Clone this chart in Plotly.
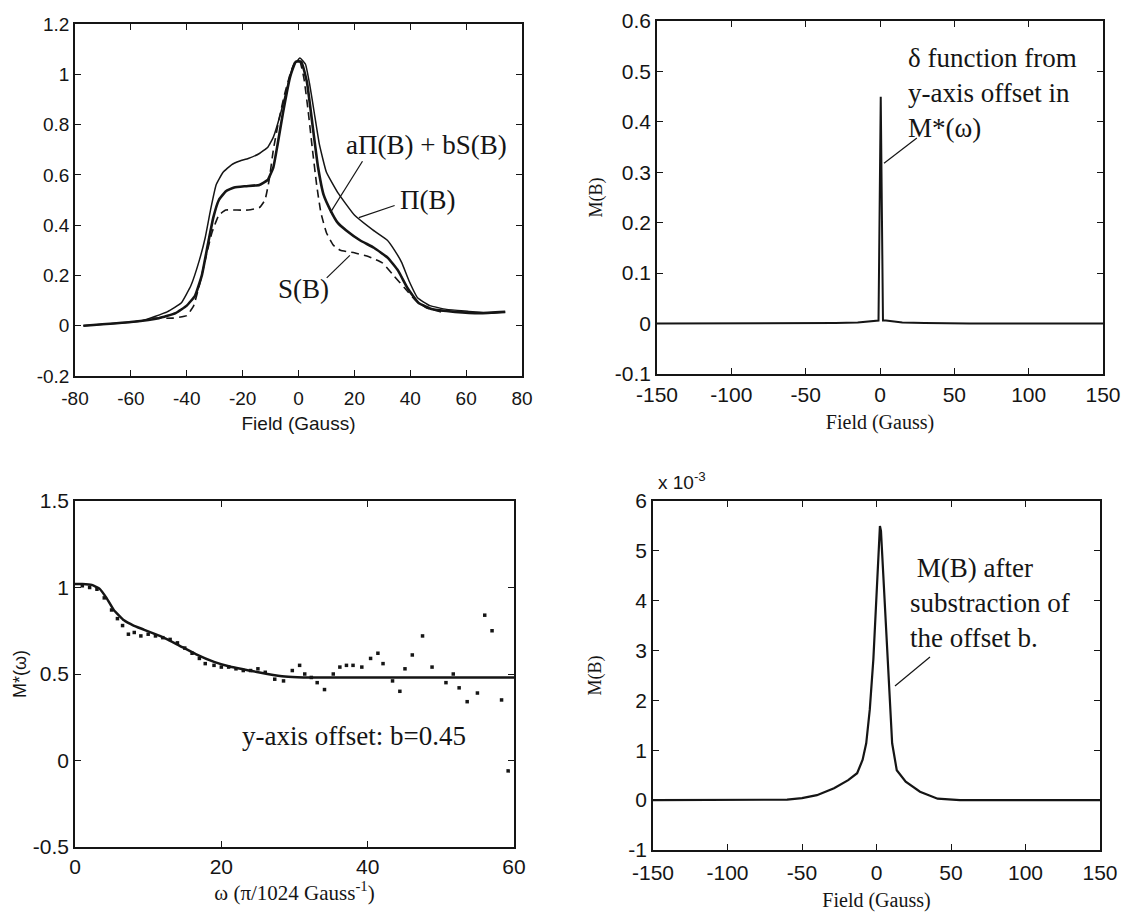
import plotly.graph_objects as go

INK = "#151515"
SANS = "Liberation Sans, Arial, sans-serif"
SERIF = "Liberation Serif, Times New Roman, serif"

# ---------------- Top-left: line shapes ----------------
pi_B = [-77, -65, -56, -47, -42, -38.5, -35.5, -33.4, -31.5, -29.5, -27, -24, -21, -18, -14, -11, -9, -6.5, -4, -2, 0.5, 2.5, 4, 5.6, 7.5, 10, 14, 20, 26.7, 31.8, 34.4, 37, 39.5, 42.7, 47, 53, 61, 68, 74]
pi_M = [0.0, 0.01, 0.02, 0.055, 0.09, 0.16, 0.26, 0.35, 0.46, 0.56, 0.61, 0.64, 0.655, 0.665, 0.685, 0.71, 0.75, 0.84, 0.95, 1.03, 1.065, 1.04, 0.96, 0.85, 0.72, 0.61, 0.53, 0.44, 0.38, 0.34, 0.30, 0.25, 0.18, 0.11, 0.08, 0.065, 0.057, 0.05, 0.055]

comb_B = [-77, -60, -50, -44, -40, -37, -34.6, -32.5, -30.5, -28.5, -26, -23, -19, -14, -11, -9, -7.5, -5.5, -3, -1, 1, 3, 5, 7, 9, 11.4, 14, 17, 22, 27, 32, 35.6, 39, 43, 48, 56, 65, 74]
comb_M = [0.0, 0.015, 0.03, 0.05, 0.08, 0.12, 0.2, 0.32, 0.43, 0.5, 0.535, 0.55, 0.555, 0.56, 0.58, 0.63, 0.72, 0.85, 0.99, 1.05, 1.05, 0.97, 0.8, 0.63, 0.52, 0.46, 0.41, 0.38, 0.34, 0.31, 0.27, 0.22, 0.15, 0.09, 0.065, 0.055, 0.05, 0.055]

s_B = [-52, -45, -40, -37.5, -35.3, -33, -31, -28.5, -26, -22, -18, -14, -12, -10.5, -9, -7, -5, -3, -1.2, 0.5, 2, 3.5, 5, 6.5, 8, 10, 12.5, 15, 20, 25, 30, 34, 38, 42, 46, 51]
s_M = [0.03, 0.03, 0.04, 0.08, 0.17, 0.28, 0.37, 0.44, 0.46, 0.46, 0.46, 0.47, 0.5, 0.58, 0.7, 0.82, 0.92, 1.0, 1.05, 1.05, 0.98, 0.85, 0.7, 0.56, 0.45, 0.37, 0.32, 0.30, 0.29, 0.275, 0.25, 0.2, 0.15, 0.1, 0.07, 0.055]

tl_xticks = [-80, -60, -40, -20, 0, 20, 40, 60, 80]
tl_xtext = ["-80", "-60", "-40", "-20", "0", "20", "40", "60", "80"]
tl_yticks = [-0.2, 0, 0.2, 0.4, 0.6, 0.8, 1.0, 1.2]
tl_ytext = ["-0.2", "0", "0.2", "0.4", "0.6", "0.8", "1", "1.2"]

# ---------------- Top-right: M(B) with delta spike ----------------
tr_B = [-150, -60, -30, -15, -8, -3, -1, 0.5, 2, 4, 8, 15, 30, 60, 150]
tr_M = [0.0, 0.0, 0.001, 0.002, 0.004, 0.006, 0.006, 0.45, 0.006, 0.006, 0.004, 0.002, 0.001, 0.0, 0.0]
tr_xticks = [-150, -100, -50, 0, 50, 100, 150]
tr_xtext = ["-150", "-100", "-50", "0", "50", "100", "150"]
tr_yticks = [-0.1, 0, 0.1, 0.2, 0.3, 0.4, 0.5, 0.6]
tr_ytext = ["-0.1", "0", "0.1", "0.2", "0.3", "0.4", "0.5", "0.6"]

# ---------------- Bottom-left: M*(omega) ----------------
fit_w = [0, 1, 2.3, 3.3, 4.3, 5.3, 6.7, 8, 9.2, 11.6, 14, 16.5, 19, 21.4, 23.8, 26.3, 28.7, 31.2, 60]
fit_M = [1.02, 1.02, 1.015, 0.995, 0.94, 0.87, 0.81, 0.78, 0.76, 0.72, 0.67, 0.615, 0.57, 0.54, 0.52, 0.5, 0.485, 0.48, 0.48]
pts_w = [1, 2, 3, 4, 5, 5.8, 6.5, 7.3, 8.1, 9, 10, 11, 12, 13, 14, 15, 16, 17, 17.8, 19, 20, 21, 22, 23, 24, 25, 26, 27.3, 28.5, 29.7, 30.7, 31.4, 32.3, 33.1, 34.1, 35.3, 36.2, 37.1, 38, 39.2, 40.4, 41.4, 42.1, 43.4, 44.4, 45.1, 46.1, 47.5, 48.8, 50.7, 51.7, 52.5, 53.6, 55, 56, 57, 58.3, 59.2]
pts_M = [1.01, 1.0, 0.99, 0.94, 0.87, 0.82, 0.78, 0.73, 0.74, 0.72, 0.73, 0.72, 0.71, 0.7, 0.68, 0.65, 0.62, 0.59, 0.56, 0.55, 0.54, 0.54, 0.53, 0.52, 0.52, 0.53, 0.51, 0.47, 0.46, 0.52, 0.55, 0.5, 0.48, 0.45, 0.41, 0.5, 0.54, 0.55, 0.55, 0.54, 0.59, 0.62, 0.56, 0.46, 0.4, 0.53, 0.61, 0.72, 0.54, 0.45, 0.5, 0.42, 0.34, 0.39, 0.84, 0.75, 0.35, -0.06]
bl_xticks = [0, 20, 40, 60]
bl_xtext = ["0", "20", "40", "60"]
bl_yticks = [-0.5, 0, 0.5, 1, 1.5]
bl_ytext = ["-0.5", "0", "0.5", "1", "1.5"]

# ---------------- Bottom-right: M(B) after offset subtraction (x 1e-3) ----------------
br_B = [-150, -100, -60, -50, -40, -28.5, -19, -13, -9.3, -6.9, -4.5, -2.1, -0.1, 1.5, 2.3, 3, 4, 6.4, 8.8, 10.5, 13.6, 19.6, 29.2, 41, 56, 100, 150]
br_M = [0, 0, 0.01, 0.04, 0.1, 0.24, 0.4, 0.54, 0.81, 1.14, 1.82, 2.83, 4.17, 5.3, 5.5, 5.4, 4.85, 3.5, 2.15, 1.14, 0.6, 0.37, 0.17, 0.03, 0, 0, 0]
br_xticks = tr_xticks
br_xtext = tr_xtext
br_yticks = [-1, 0, 1, 2, 3, 4, 5, 6]
br_ytext = ["-1", "0", "1", "2", "3", "4", "5", "6"]

W, H = 1128, 912


def dom_x(a, b):
    return [a / W, b / W]


def dom_y(top, bottom):
    return [1 - bottom / H, 1 - top / H]


def axis(domain, rng, tv, tt, anchor, fsize, title=None, tfont=None, standoff=None, lab_off=0):
    d = dict(domain=domain, range=rng, tickmode="array", tickvals=tv, ticktext=tt,
             anchor=anchor, showline=True, linecolor=INK, linewidth=1.5, mirror="ticks",
             ticks="inside", ticklen=6, tickwidth=1.2, tickcolor=INK, showgrid=False,
             zeroline=False, automargin=False, ticklabelstandoff=lab_off,
             tickfont=dict(family=SANS, size=fsize, color=INK))
    if title is not None:
        d["title"] = dict(text=title, font=tfont, standoff=standoff)
    return d


fig = go.Figure()
fig.add_trace(go.Scatter(x=pi_B, y=pi_M, xaxis="x", yaxis="y", mode="lines",
                         line=dict(color=INK, width=1.5, shape="spline", smoothing=0.35)))
fig.add_trace(go.Scatter(x=comb_B, y=comb_M, xaxis="x", yaxis="y", mode="lines",
                         line=dict(color=INK, width=2.6, shape="spline", smoothing=0.35)))
fig.add_trace(go.Scatter(x=s_B, y=s_M, xaxis="x", yaxis="y", mode="lines",
                         line=dict(color=INK, width=1.6, dash="8px,5px", shape="spline", smoothing=0.35)))
fig.add_trace(go.Scatter(x=tr_B, y=tr_M, xaxis="x2", yaxis="y2", mode="lines",
                         line=dict(color=INK, width=2)))
fig.add_trace(go.Scatter(x=fit_w, y=fit_M, xaxis="x3", yaxis="y3", mode="lines",
                         line=dict(color=INK, width=2.5, shape="spline", smoothing=0.3)))
fig.add_trace(go.Scatter(x=pts_w, y=pts_M, xaxis="x3", yaxis="y3", mode="markers",
                         marker=dict(color=INK, size=3.5, symbol="square")))
fig.add_trace(go.Scatter(x=br_B, y=br_M, xaxis="x4", yaxis="y4", mode="lines",
                         line=dict(color=INK, width=2.2)))

fig.update_layout(
    width=W, height=H, autosize=False, showlegend=False,
    paper_bgcolor="white", plot_bgcolor="white",
    margin=dict(l=0, r=0, t=0, b=0, autoexpand=False),
    xaxis=axis(dom_x(75, 522), [-80, 80], tl_xticks, tl_xtext, "y", 19,
               "Field (Gauss)", dict(family=SANS, size=19, color=INK), 9, 4),
    yaxis=axis(dom_y(24, 376), [-0.2, 1.2], tl_yticks, tl_ytext, "x", 19),
    xaxis2=axis(dom_x(657, 1103), [-150, 150], tr_xticks, tr_xtext, "y2", 21,
                "Field (Gauss)", dict(family=SERIF, size=20, color=INK), 10, 1),
    yaxis2=axis(dom_y(21, 374), [-0.1, 0.6], tr_yticks, tr_ytext, "x2", 21,
                "M(B)", dict(family=SERIF, size=18, color=INK), 8),
    xaxis3=axis(dom_x(75, 514), [0, 60], bl_xticks, bl_xtext, "y3", 21,
                "ω (π/1024 Gauss<sup>-1</sup>)", dict(family=SERIF, size=21, color=INK), 8, 0),
    yaxis3=axis(dom_y(501, 847), [-0.5, 1.5], bl_yticks, bl_ytext, "x3", 21,
                "M*(ω)", dict(family=SANS, size=18, color=INK), 2),
    xaxis4=axis(dom_x(653, 1100), [-150, 150], br_xticks, br_xtext, "y4", 21,
                "Field (Gauss)", dict(family=SERIF, size=20, color=INK), 18, 3),
    yaxis4=axis(dom_y(501, 850), [-1, 6], br_yticks, br_ytext, "x4", 21,
                "M(B)", dict(family=SERIF, size=18, color=INK), 22),
)

afont = dict(family=SERIF, size=27, color=INK)
ann = [
    dict(x=45.9, y=0.72, xref="x", yref="y", text="aΠ(B) + bS(B)", showarrow=False, font=afont),
    dict(x=46.5, y=0.5, xref="x", yref="y", text="Π(B)", showarrow=False, font=afont),
    dict(x=1.8, y=0.145, xref="x", yref="y", text="S(B)", showarrow=False, font=afont),
    dict(x=17.4, y=0.457, xref="x2", yref="y2", text="δ function from<br>y-axis offset in<br>M*(ω)",
         showarrow=False, xanchor="left", align="left", font=afont),
    dict(x=38.1, y=0.14, xref="x3", yref="y3", text="y-axis offset: b=0.45", showarrow=False, font=afont),
    dict(x=21.1, y=3.95, xref="x4", yref="y4", text=" M(B) after<br>substraction of<br>the offset b.",
         showarrow=False, xanchor="left", align="left", font=afont),
    dict(x=656 / W, y=1 - 481 / H, xref="paper", yref="paper", text="x 10<sup>-3</sup>",
         showarrow=False, xanchor="left", yanchor="middle", font=dict(family=SANS, size=19, color=INK)),
]
fig.update_layout(annotations=ann)

pointer = dict(color=INK, width=1.2)
shapes = [
    dict(type="line", xref="x", yref="y", x0=22.9, y0=0.654, x1=11.4, y1=0.45, line=pointer),
    dict(type="line", xref="x", yref="y", x0=34.4, y0=0.478, x1=21.6, y1=0.43, line=pointer),
    dict(type="line", xref="x", yref="y", x0=10.1, y0=0.19, x1=18.4, y1=0.28, line=pointer),
    dict(type="line", xref="x2", yref="y2", x0=24.8, y0=0.368, x1=2.7, y1=0.318, line=pointer),
    dict(type="line", xref="x4", yref="y4", x0=35.9, y0=2.87, x1=12.4, y1=2.29, line=pointer),
]
fig.update_layout(shapes=shapes)

fig.write_html("out.html", config={"displayModeBar": False},
               post_script="document.body.style.margin='0';")
